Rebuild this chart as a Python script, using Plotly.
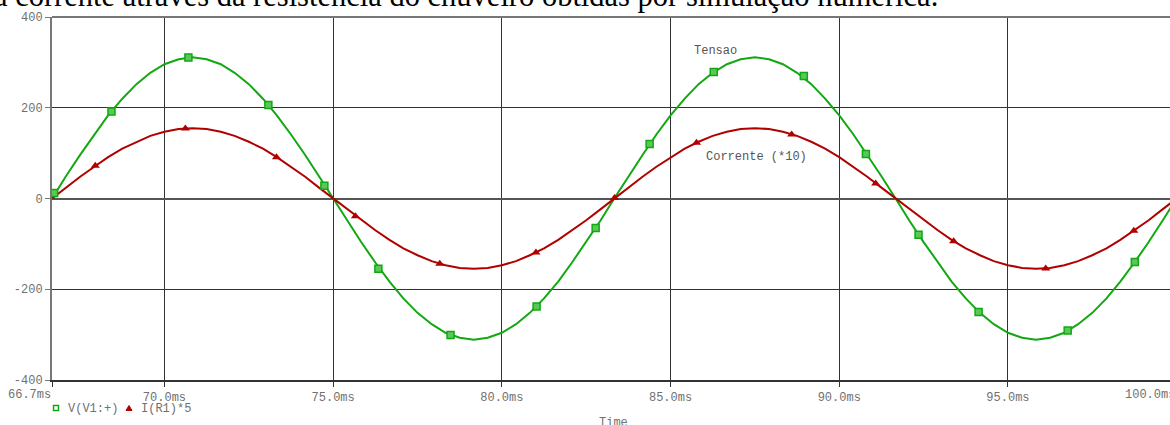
import plotly.graph_objects as go

# ---------------- data ----------------
time_ms = [66.67, 67.08, 67.50, 67.92, 68.33, 68.75, 69.17, 69.58, 70.00, 70.42,
           70.83, 71.25, 71.67, 72.08, 72.50, 72.92, 73.33, 73.75, 74.17, 74.58,
           75.00, 75.42, 75.83, 76.25, 76.67, 77.08, 77.50, 77.92, 78.33, 78.75,
           79.17, 79.58, 80.00, 80.42, 80.83, 81.25, 81.67, 82.08, 82.50, 82.92,
           83.33, 83.75, 84.17, 84.58, 85.00, 85.42, 85.83, 86.25, 86.67, 87.08,
           87.50, 87.92, 88.33, 88.75, 89.17, 89.58, 90.00, 90.42, 90.83, 91.25,
           91.67, 92.08, 92.50, 92.92, 93.33, 93.75, 94.17, 94.58, 95.00, 95.42,
           95.83, 96.25, 96.67, 97.08, 97.50, 97.92, 98.33, 98.75, 99.17, 99.58,
           100.00]

tensao_v = [0, 49, 96, 141, 183, 220, 252, 277, 296, 307,
            311, 307, 296, 277, 252, 220, 183, 141, 96, 49,
            0, -49, -96, -141, -183, -220, -252, -277, -296, -307,
            -311, -307, -296, -277, -252, -220, -183, -141, -96, -49,
            0, 49, 96, 141, 183, 220, 252, 277, 296, 307,
            311, 307, 296, 277, 252, 220, 183, 141, 96, 49,
            0, -49, -96, -141, -183, -220, -252, -277, -296, -307,
            -311, -307, -296, -277, -252, -220, -183, -141, -96, -49,
            0]

corrente_x5 = [0, 24, 48, 70, 91, 110, 125, 138, 147, 153,
               155, 153, 147, 138, 125, 110, 91, 70, 48, 24,
               0, -24, -48, -70, -91, -110, -125, -138, -147, -153,
               -155, -153, -147, -138, -125, -110, -91, -70, -48, -24,
               0, 24, 48, 70, 91, 110, 125, 138, 147, 153,
               155, 153, 147, 138, 125, 110, 91, 70, 48, 24,
               0, -24, -48, -70, -91, -110, -125, -138, -147, -153,
               -155, -153, -147, -138, -125, -110, -91, -70, -48, -24,
               0]

v_marker_t = [66.73, 68.43, 70.71, 73.08, 74.74, 76.34, 78.48, 81.03, 82.78,
              84.38, 86.28, 88.95, 90.79, 92.35, 94.13, 96.77, 98.76]
v_marker_v = [12, 192, 311, 206, 28, -155, -301, -238, -65,
              120, 279, 270, 98, -80, -250, -291, -140]

i_marker_t = [67.95, 70.62, 73.32, 75.66, 78.16, 81.01, 83.34, 85.77, 88.59,
              91.08, 93.39, 96.12, 98.73]
i_marker_v = [72, 154, 91, -39, -144, -119, 1, 123, 141,
              33, -94, -154, -71]

x_tickvals = [66.667, 70, 75, 80, 85, 90, 95]
x_ticktext = ["", "70.0ms", "75.0ms", "80.0ms", "85.0ms", "90.0ms", "95.0ms"]
x_first_label = "66.7ms"
x_last_label = "100.0ms"
y_tickvals = [-400, -200, 0, 200, 400]
y_ticktext = ["-400", "-200", "0", "200", "400"]

series_names = ["V(V1:+)", "I(R1)*5"]
caption = "a corrente através da resistência do chuveiro obtidas por simulação numérica."

# ---------------- style ----------------
W, H = 1170, 425
ML, MR, MT, MB = 52, 0, 17, 45
PW, PH = W - ML - MR, H - MT - MB
GREEN = "#12a812"
RED = "#b00000"
MONO = "Liberation Mono, Courier New, monospace"
TXT = "#707070"


def px(xp):
    return (xp - ML) / PW


def py(yp):
    return (H - MB - yp) / PH


fig = go.Figure()
fig.add_trace(go.Scatter(x=time_ms, y=tensao_v, mode="lines",
                         line=dict(color=GREEN, width=2), showlegend=False))
fig.add_trace(go.Scatter(x=time_ms, y=corrente_x5, mode="lines",
                         line=dict(color=RED, width=2), showlegend=False))
fig.add_trace(go.Scatter(x=v_marker_t, y=v_marker_v, mode="markers",
                         marker=dict(symbol="square", size=7, color="#58c858",
                                     line=dict(color=GREEN, width=1.5)),
                         showlegend=False))
fig.add_trace(go.Scatter(x=i_marker_t, y=i_marker_v, mode="markers",
                         marker=dict(symbol="triangle-up", size=8, color=RED,
                                     line=dict(width=0)),
                         showlegend=False))

per_ms = 33.74
x_end = 66.667 + PW / per_ms

fig.update_xaxes(range=[66.667, x_end], tickvals=x_tickvals, ticktext=x_ticktext,
                 automargin=False,
                 showgrid=True, gridcolor="#333333", gridwidth=1,
                 showline=True, linecolor="#333333", linewidth=2,
                 ticks="outside", ticklen=5, tickcolor="#333333",
                 tickfont=dict(family=MONO, size=12, color=TXT),
                 zeroline=False)
fig.update_yaxes(range=[-400, 400], tickvals=y_tickvals, ticktext=y_ticktext,
                 automargin=False,
                 showgrid=True, gridcolor="#333333", gridwidth=1,
                 showline=True, linecolor="#777777", linewidth=2,
                 ticks="outside", ticklen=5, tickcolor="#777777",
                 tickfont=dict(family=MONO, size=12, color=TXT),
                 zeroline=True, zerolinecolor="#555555", zerolinewidth=1.5)

annotations = [
    dict(text=caption, xref="paper", yref="paper", x=px(-8.5), y=py(-3.5),
         xanchor="left", yanchor="middle", showarrow=False,
         font=dict(family="Liberation Serif, Times New Roman, serif", size=30.5, color="#000000")),
    dict(text=x_first_label, xref="paper", yref="paper", x=px(53), y=py(395),
         xanchor="right", yanchor="middle", showarrow=False,
         font=dict(family=MONO, size=12, color=TXT)),
    dict(text=x_last_label, xref="paper", yref="paper", x=px(1177), y=py(395),
         xanchor="right", yanchor="middle", showarrow=False,
         font=dict(family=MONO, size=12, color=TXT)),
    dict(text="Time", xref="paper", yref="paper", x=px(613), y=py(423),
         xanchor="center", yanchor="middle", showarrow=False,
         font=dict(family=MONO, size=12, color=TXT)),
    dict(text="Tensao", xref="paper", yref="paper", x=px(715), y=py(51),
         xanchor="center", yanchor="middle", showarrow=False,
         font=dict(family=MONO, size=12, color="#555555")),
    dict(text="Corrente (*10)", xref="paper", yref="paper", x=px(756), y=py(157),
         xanchor="center", yanchor="middle", showarrow=False,
         font=dict(family=MONO, size=12, color="#555555")),
    dict(text=series_names[0], xref="paper", yref="paper", x=px(66), y=py(409),
         xanchor="left", yanchor="middle", showarrow=False,
         font=dict(family=MONO, size=12, color=TXT)),
    dict(text=series_names[1], xref="paper", yref="paper", x=px(139), y=py(409),
         xanchor="left", yanchor="middle", showarrow=False,
         font=dict(family=MONO, size=12, color=TXT)),
]

shapes = [
    # top frame line
    dict(type="line", xref="paper", yref="paper", x0=0, x1=1, y0=1, y1=1,
         line=dict(color="#777777", width=2)),
    # legend symbols
    dict(type="rect", xref="paper", yref="paper", xsizemode="pixel", ysizemode="pixel",
         xanchor=px(56), yanchor=py(408), x0=-2.5, x1=2.5, y0=-2.5, y1=2.5,
         line=dict(color=GREEN, width=1.5), fillcolor="white"),
    dict(type="path", xref="paper", yref="paper", xsizemode="pixel", ysizemode="pixel",
         xanchor=px(129), yanchor=py(408), path="M -3,-2.5 L 3,-2.5 L 0,2.5 Z",
         line=dict(color=RED, width=1), fillcolor=RED),
]

fig.update_layout(width=W, height=H, margin=dict(l=ML, r=MR, t=MT, b=MB, pad=0, autoexpand=False),
                  plot_bgcolor="white", paper_bgcolor="white",
                  showlegend=False, annotations=annotations, shapes=shapes)

fig.write_html("out.html", config={"displayModeBar": False},
               post_script="document.body.style.margin='0';document.body.style.overflow='hidden';")
